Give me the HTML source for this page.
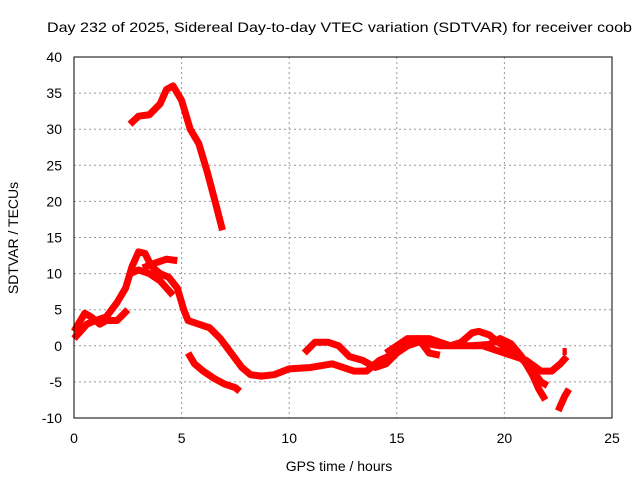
<!DOCTYPE html>
<html><head><meta charset="utf-8"><style>
body{margin:0;background:#fff}
svg{display:block;font-family:"Liberation Sans",sans-serif;font-size:14px}
</style></head><body>
<svg width="640" height="480" id="c">
<text x="47" y="32" textLength="585" lengthAdjust="spacingAndGlyphs">Day 232 of 2025, Sidereal Day-to-day VTEC variation (SDTVAR) for receiver coob</text>
<text x="339" y="471" text-anchor="middle">GPS time / hours</text>
<text transform="translate(18,238) rotate(-90)" text-anchor="middle">SDTVAR / TECUs</text>
<g id="grid"></g><g id="data"></g>
<rect x="74" y="57" width="538" height="361" fill="none" stroke="#000"/>
</svg>
<script>
const xTicks=[0,5,10,15,20,25];
const yTicks=[-10,-5,0,5,10,15,20,25,30,35,40];
const seriesTop=[[2.6,30.7],[3,31.8],[3.5,32],[4,33.5],[4.3,35.5],[4.6,36],[5,34],[5.4,30],[5.8,28],[6.2,24],[6.6,19.5],[6.9,16]];
const seriesMain=[[0,1],[0.3,2],[0.6,3],[1,3.5],[1.5,4],[2,6],[2.4,8],[2.7,11],[3,13],[3.3,12.8],[3.6,11],[4,10],[4.4,9.5],[4.8,8],[5.1,5],[5.3,3.5],[5.8,3],[6.3,2.5],[6.8,1],[7.3,-1],[7.8,-3],[8.2,-4],[8.7,-4.2],[9.3,-4],[10,-3.2],[11,-3],[12,-2.5],[13,-3.5],[13.6,-3.5],[14.2,-2],[15,-1],[15.5,0],[16,0.5],[17,0],[18,0],[19,0],[20,-1],[21,-2],[21.7,-3.5],[22.2,-3.5],[22.6,-2.5],[22.9,-1.5]];
const seriesLoop=[[2.6,10],[3,10.5],[3.5,10],[4,9],[4.3,8],[4.6,7]];
const seriesUpper=[[3.2,10.8],[3.8,11.5],[4.3,12],[4.8,11.8]];
const seriesEarly=[[0,2],[0.2,3],[0.5,4.5],[0.8,4],[1.2,3],[1.5,3.5],[2,3.5],[2.5,5]];
const seriesDrop=[[5.3,-1],[5.6,-2.5],[6,-3.5],[6.5,-4.5],[7,-5.3],[7.5,-5.8],[7.7,-6.3]];
const seriesEve=[[10.7,-1],[11.2,0.5],[11.8,0.5],[12.3,0],[12.8,-1.5],[13.4,-2],[14,-3],[14.5,-2.5],[15,-1],[15.5,0.5],[16,1],[16.5,1],[17,0.5],[17.5,0],[18,0.5],[18.5,1.8],[18.8,2],[19.3,1.5],[19.7,0.5],[20.2,-0.5],[20.7,-1.5],[21.2,-3],[21.7,-5],[22,-5.5]];
const seriesLate=[[18.5,0],[19.3,0.2],[19.8,1],[20.3,0.3],[20.8,-1.5],[21.3,-4],[21.6,-6],[21.9,-7.5]];
const seriesMid=[[14.5,-1],[15,0],[15.5,1],[16,1],[16.5,-1],[17,-1.3]];
const seriesEnd=[[22.5,-9],[22.8,-7],[23,-6]];
const seriesDot=[[22.7,-0.8],[22.9,-0.8]];
const X=h=>74+h*538/25, Y=v=>57+(40-v)*361/50;
const NS="http://www.w3.org/2000/svg";
const g=document.getElementById('grid'), d=document.getElementById('data'), svg=document.getElementById('c');
xTicks.forEach(t=>{
 if(t>0&&t<25){const l=document.createElementNS(NS,'line');
 
 
 l.setAttribute('x1',X(t));l.setAttribute('x2',X(t));l.setAttribute('y1',57);l.setAttribute('y2',418);
 l.setAttribute('stroke','#999');l.setAttribute('stroke-dasharray','2,3');g.appendChild(l);}
 const tx=document.createElementNS(NS,'text');
 
 
 tx.setAttribute('x',X(t));tx.setAttribute('y',443);tx.setAttribute('text-anchor','middle');tx.textContent=t;svg.appendChild(tx);
});
yTicks.forEach(t=>{
 if(t>-10&&t<40){const l=document.createElementNS(NS,'line');
 
 
 l.setAttribute('x1',74);l.setAttribute('x2',612);l.setAttribute('y1',Y(t));l.setAttribute('y2',Y(t));
 l.setAttribute('stroke','#999');l.setAttribute('stroke-dasharray','2,3');g.appendChild(l);}
 const tx=document.createElementNS(NS,'text');
 
 
 tx.setAttribute('x',62);tx.setAttribute('y',Y(t)+5);tx.setAttribute('text-anchor','end');tx.textContent=t;svg.appendChild(tx);
});
[seriesTop,seriesMain,seriesLoop,seriesUpper,seriesEarly,seriesDrop,seriesEve,seriesLate,seriesMid,seriesEnd,seriesDot].forEach(s=>{
 const p=document.createElementNS(NS,'polyline');
 
 
 p.setAttribute('points',s.map(q=>X(q[0])+','+Y(q[1])).join(' '));
 p.setAttribute('fill','none');p.setAttribute('stroke','#f00');p.setAttribute('stroke-width','7');p.setAttribute('stroke-linejoin','round');
 d.appendChild(p);
});
</script>
</body></html>
